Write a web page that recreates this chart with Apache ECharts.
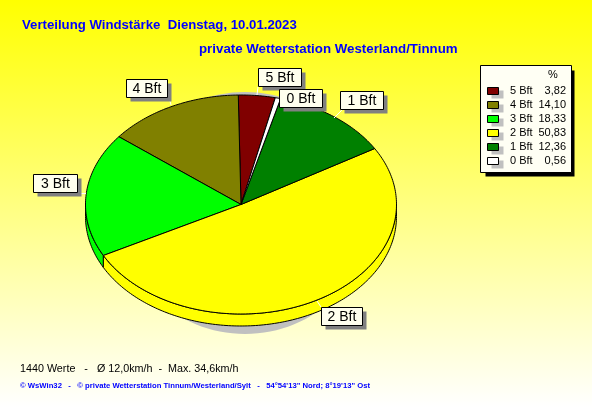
<!DOCTYPE html>
<html>
<head>
<meta charset="utf-8">
<style>html,body{margin:0;padding:0;background:#fff}#c{width:592px;height:407px}</style>
<script src="https://cdn.jsdelivr.net/npm/echarts@6/dist/echarts.min.js"></script>
</head>
<body>
<div id="c"></div>
<script>
var categories = ['5 Bft', '4 Bft', '3 Bft', '2 Bft', '1 Bft', '0 Bft'];
var percents = [3.82, 14.10, 18.33, 50.83, 12.36, 0.56];
var percentLabels = ['3,82', '14,10', '18,33', '50,83', '12,36', '0,56'];
var colors = ['#800000', '#808000', '#00ff00', '#ffff00', '#008000', '#ffffff'];
var titleMain = 'Verteilung Windstärke  Dienstag, 10.01.2023';
var titleSub = 'private Wetterstation Westerland/Tinnum';
var footerStats = '1440 Werte   -   Ø 12,0km/h  -  Max. 34,6km/h';
var footerCredit = '© WsWin32   -   © private Wetterstation Tinnum/Westerland/Sylt   -   54°54\'13" Nord; 8°19\'13" Ost';

// layout
var CX = 241, CY = 204.5, RX = 155.5, RY = 109.5, DEPTH = 12;
var START = 12.75;
var labelBoxes = {
  '5 Bft': {x: 258, y: 68, w: 43, stem: [[258, 87], [257, 95]]},
  '0 Bft': {x: 279, y: 89, w: 43, stem: [[279, 100], [276, 101]]},
  '1 Bft': {x: 340, y: 91, w: 43, stem: [[342, 110], [334, 118]]},
  '4 Bft': {x: 126, y: 79, w: 41, stem: [[169, 97], [171, 105]]},
  '3 Bft': {x: 33, y: 174, w: 44, stem: [[79, 193.5], [86, 193.5]]},
  '2 Bft': {x: 321, y: 307, w: 41, stem: [[321, 307], [317, 301]]}
};

function rim(deg, dy) {
  var a = deg * Math.PI / 180;
  return [CX + RX * Math.sin(a), CY + (dy || 0) - RY * Math.cos(a)];
}
function arcPts(a0, a1, dy) {
  var pts = [], n = Math.max(2, Math.ceil(Math.abs(a1 - a0)));
  for (var i = 0; i <= n; i++) pts.push(rim(a0 + (a1 - a0) * i / n, dy));
  return pts;
}
// slices are laid out counter-clockwise from START in category order
var total = percents.reduce(function (s, v) { return s + v; }, 0);
function range(idx) {
  var before = 0;
  for (var i = 0; i < idx; i++) before += percents[i];
  var end = START - before / total * 360;
  return [end - percents[idx] / total * 360, end];
}

var seriesData = categories.map(function (n, i) {
  return {name: n, value: percents[i], itemStyle: {color: colors[i]}};
});

var option = {
  animation: false,
  backgroundColor: {
    type: 'linear', x: 0, y: 0, x2: 0, y2: 1,
    colorStops: [{offset: 0, color: '#ffff00'}, {offset: 1, color: '#ffffff'}]
  },
  series: [
    { // drop shadow
      type: 'custom', coordinateSystem: 'none', silent: true, z: 1,
      data: [1],
      renderItem: function () {
        return {type: 'ellipse', shape: {cx: 245, cy: 213, rx: 125, ry: 121},
          style: {fill: '#c0c0c0', stroke: null}};
      }
    },
    { // side wall
      type: 'custom', coordinateSystem: 'none', silent: true, z: 2,
      data: seriesData,
      renderItem: function (params, api) {
        var r = range(params.dataIndex);
        var lo = r[0], hi = r[1];
        while (lo < 0) { lo += 360; hi += 360; }
        var a0 = Math.max(lo, 90), a1 = Math.min(hi, 270);
        if (a1 <= a0) return {type: 'group', children: []};
        var pts = arcPts(a0, a1, 0).concat(arcPts(a1, a0, DEPTH));
        return {type: 'polygon', shape: {points: pts},
          style: {fill: colors[params.dataIndex], stroke: '#000', lineWidth: 1}};
      }
    },
    { // top face
      type: 'custom', coordinateSystem: 'none', silent: true, z: 3,
      data: seriesData,
      renderItem: function (params, api) {
        var r = range(params.dataIndex);
        var pts = [[CX, CY]].concat(arcPts(r[0], r[1], 0));
        return {type: 'polygon', shape: {points: pts},
          style: {fill: colors[params.dataIndex], stroke: '#000', lineWidth: 1}};
      }
    }
  ],
  graphic: {elements: []}
};

var g = option.graphic.elements;
var FONT = '"Liberation Sans", Arial, sans-serif';
function text(x, y, t, o) {
  o = o || {};
  g.push({type: 'text', x: x, y: y, z: 20, silent: true, style: {
    text: t, fill: o.fill || '#000', font: (o.weight || 'normal') + ' ' + (o.size || 12) + 'px ' + (o.family || FONT),
    textAlign: o.align || 'left', textVerticalAlign: 'middle'
  }});
}
function rect(x, y, w, h, fill, stroke, z) {
  g.push({type: 'rect', z: z || 10, silent: true, shape: {x: x + 0.5, y: y + 0.5, width: w, height: h},
    style: {fill: fill, stroke: stroke || null, lineWidth: 1}});
}

text(22, 25, titleMain, {weight: 'bold', size: 13.2, fill: '#0000ff'});
text(199, 49, titleSub, {weight: 'bold', size: 13.3, fill: '#0000ff'});
text(20, 369, footerStats, {size: 10.75});
text(20, 386, footerCredit, {size: 7.7, weight: 'bold', fill: '#0000ff'});

// slice label boxes
categories.forEach(function (n) {
  var b = labelBoxes[n];
  g.push({type: 'polyline', z: 9, silent: true, shape: {points: b.stem}, style: {stroke: '#fff', lineWidth: 1, fill: null}});
  rect(b.x + 4, b.y + 4, b.w, 18, '#808080', null, 10);
  rect(b.x, b.y, b.w, 18, '#ffffee', '#000', 11);
  text(b.x + b.w / 2 + 0.5, b.y + 10, n, {align: 'center', size: 14});
});

// legend
rect(485, 70, 89, 106, '#000', null, 10);
rect(480, 65, 91, 107, '#fffff4', '#000', 11);
text(553, 75, '%', {align: 'center', size: 11});
categories.forEach(function (n, i) {
  var y = 91 + i * 14;
  rect(491, y - 1, 12, 8, '#c0c0c0', null, 12);
  rect(487, y - 4, 11, 7, colors[i], '#000', 13);
  text(510, y, n, {size: 11});
  text(566, y, percentLabels[i], {size: 11, align: 'right'});
});

var chart = echarts.init(document.getElementById('c'), null, {renderer: 'canvas'});
chart.setOption(option);
</script>
</body>
</html>
